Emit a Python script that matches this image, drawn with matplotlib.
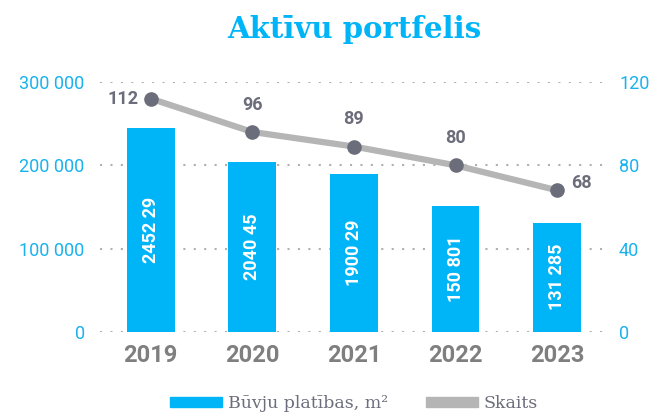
import matplotlib
matplotlib.use('Agg')
from matplotlib import pyplot as plt
from matplotlib.patches import Patch
from matplotlib.ticker import FuncFormatter

years = ['2019', '2020', '2021', '2022', '2023']
area = [245229, 204045, 190029, 150801, 131285]
area_labels = ['2452 29', '2040 45', '1900 29', '150 801', '131 285']
count = [112, 96, 89, 80, 68]

blue = '#00b4f8'
tick_blue = '#1ab2ee'
line_grey = '#b5b5b5'
dot_grey = '#6c6d7b'
year_grey = '#7f7f7f'

fig = plt.figure(figsize=(6.53, 4.16), dpi=100)
ax = fig.add_axes([0.153, 0.202, 0.778, 0.601])
ax2 = ax.twinx()

x = range(len(years))
ax.bar(x, area, width=0.47, color=blue, zorder=2)
ax.set_xlim(-0.5, 4.5)
ax.set_ylim(0, 300000)
ax.set_yticks([0, 100000, 200000, 300000])
ax.yaxis.set_major_formatter(FuncFormatter(lambda v, p: '{:,}'.format(int(v)).replace(',', ' ')))
ax.set_xticks(list(x))
ax.set_xticklabels(years, fontsize=17, fontweight='bold', color=year_grey, family='Roboto')
ax.tick_params(axis='x', length=0, pad=9)
ax.tick_params(axis='y', length=0, pad=11, labelsize=13, labelcolor=tick_blue)
for lbl in ax.get_yticklabels():
    lbl.set_family('Roboto')
ax.grid(axis='y', linestyle=(0, (1, 4)), color='#b0b0b0', linewidth=1.5, zorder=0)
for s in ax.spines.values():
    s.set_visible(False)

for i, (v, t) in enumerate(zip(area, area_labels)):
    ax.text(i, v / 2, t, rotation=90, ha='center', va='center', color='white',
            fontsize=13, fontweight='bold', family='Roboto', zorder=3)

ax2.plot(x, count, color=line_grey, linewidth=4.5, solid_capstyle='butt', zorder=3)
ax2.plot(x, count, 'o', color=dot_grey, markersize=9.5, zorder=4)
ax2.set_ylim(0, 120)
ax2.set_yticks([0, 40, 80, 120])
ax2.tick_params(axis='y', length=0, pad=8, labelsize=13, labelcolor=tick_blue)
for lbl in ax2.get_yticklabels():
    lbl.set_family('Roboto')
for s in ax2.spines.values():
    s.set_visible(False)

offsets = [(-9, 0, 'right', 'center'), (0, 13, 'center', 'bottom'), (0, 13, 'center', 'bottom'),
           (0, 13, 'center', 'bottom'), (10, 5, 'left', 'center')]
for i, (c, (dx, dy, ha, va)) in enumerate(zip(count, offsets)):
    ax2.annotate(str(c), (i, c), xytext=(dx, dy), textcoords='offset points', ha=ha, va=va,
                 fontsize=13, fontweight='bold', color=dot_grey, family='Roboto')

fig.text(0.542, 0.93, 'Aktīvu portfelis', ha='center', va='center', fontsize=21,
         fontweight='bold', color=blue, family='DejaVu Serif')

handles = [Patch(color=blue), Patch(color=line_grey)]
fig.legend(handles, ['Būvju platības, m²', 'Skaits'], loc='center', bbox_to_anchor=(0.542, 0.03),
           ncol=2, frameon=False, handlelength=3.0, handleheight=0.5, columnspacing=2.2,
           handletextpad=0.3, prop={'family': 'DejaVu Serif', 'size': 12.5}, labelcolor='#6c6d7b')

fig.savefig('out.png', dpi=100)
